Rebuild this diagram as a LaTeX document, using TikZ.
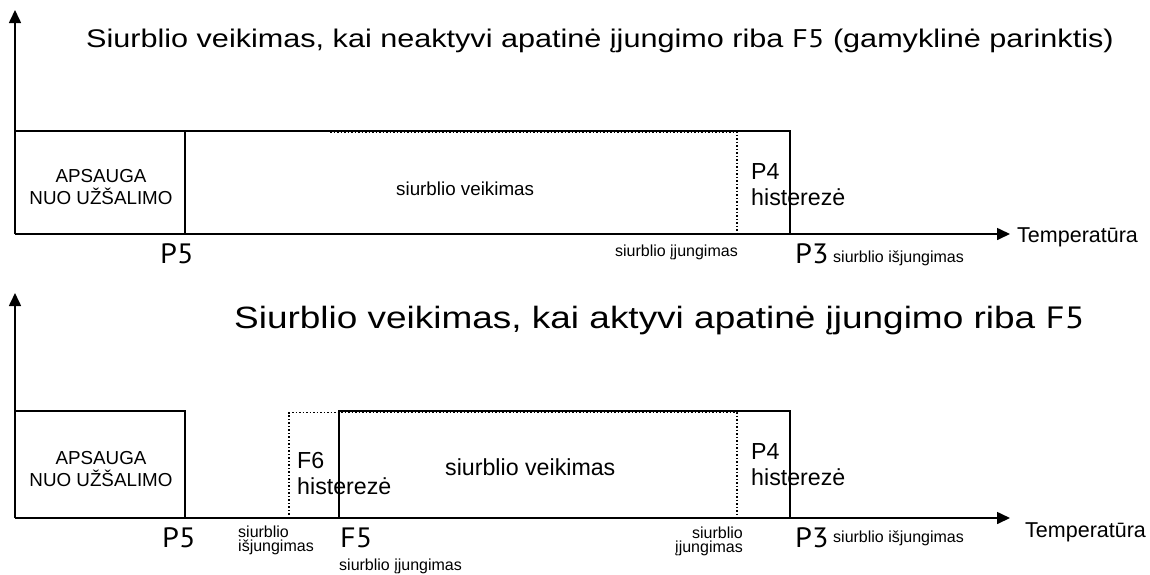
\documentclass[tikz,border=0pt]{standalone}
\usepackage{fontspec}
\setmainfont{Liberation Sans}
\newfontfamily\plabfont{PT Sans}[FakeStretch=1.08]
\newfontfamily\titlefont{Liberation Sans}[FakeStretch=1.2]
\newfontfamily\titleplab{PT Sans}[FakeStretch=1.2]
\usetikzlibrary{arrows.meta,positioning}

\tikzset{
    axis/.style={line width=1.6pt, -{Triangle[length=13pt,width=12pt]}},
    edge/.style={line width=1.6pt},
    hyst/.style={line width=1.5pt, dotted},
    txt/.style={inner sep=0pt, anchor=base west},
    title/.style={txt, font=\titlefont\fontsize{25.5}{30}\selectfont},
    mid/.style={txt, font=\fontsize{18.8}{22}\selectfont},
    big/.style={txt, font=\fontsize{23.2}{26.5}\selectfont},
    small/.style={txt, font=\fontsize{16}{14.5}\selectfont},
    axlab/.style={txt, font=\fontsize{21.5}{24}\selectfont},
    plab/.style={txt, font=\plabfont\fontsize{28}{30}\selectfont}
}

\begin{document}
\begin{tikzpicture}[x=1pt,y=-1pt]
            \useasboundingbox (0,0) rectangle (1150,574);

            \coordinate (o1) at (15,234);
            \coordinate (y1) at (15,10);
            \coordinate (x1) at (1010,234);
            \draw [axis] (o1) -- (y1);
            \draw [axis] (o1) -- (x1);
            \draw [edge] (o1) |- (185,131) -- (185,234);
            \draw [edge] (185,131) -| (790,234);
            \draw [hyst] (330,132.5) -- (737,132.5);
            \draw [hyst] (737,131) -- (737,234);

            \node [title] (t1) at (86,47) {Siurblio veikimas, kai neaktyvi apatinė įjungimo riba {\titleplab F5} (gamyklinė parinktis)};
            \node [mid, anchor=center, align=center] (prot1) at (101,187.5) {APSAUGA\\NUO UŽŠALIMO};
            \node [mid] (run1) at (396,195) {siurblio veikimas};
            \node [big, anchor=north west, align=left] (p4a) at (751,163) {P4\\histerezė};
            \node [small, anchor=base east] (on1) at (738,256) {siurblio įjungimas};
            \node [plab] (p5a) at (160,263) {P5};
            \node [plab] (p3a) at (795,263) {P3};
            \node [small] (off1) at (833,262) {siurblio išjungimas};
            \node [axlab] (temp1) at (1017,242) {Temperatūra};

            \coordinate (o2) at (15,518);
            \coordinate (y2) at (15,293);
            \coordinate (x2) at (1010,518);
            \draw [axis] (o2) -- (y2);
            \draw [axis] (o2) -- (x2);
            \draw [edge] (o2) |- (185,411) -- (185,518);
            \draw [hyst] (289,518) |- (737,412.5) -- (737,518);
            \draw [edge] (339,518) |- (790,411) -- (790,518);

            \node [title, font=\titlefont\fontsize{30.8}{34}\selectfont] (t2) at (234,328) {Siurblio veikimas, kai aktyvi apatinė įjungimo riba {\titleplab F5}};
            \node [mid, anchor=center, align=center] (prot2) at (101,469.5) {APSAUGA\\NUO UŽŠALIMO};
            \node [big, anchor=north west, align=left] (f6) at (297,452) {F6\\histerezė};
            \node [big] (run2) at (445,475) {siurblio veikimas};
            \node [big, anchor=north west, align=left] (p4b) at (751,443) {P4\\histerezė};
            \node [small, anchor=north west, align=left] (off2a) at (238,525.5) {siurblio\\išjungimas};
            \node [plab] (p5b) at (162,547) {P5};
            \node [plab] (f5) at (340,547) {F5};
            \node [small] (on2a) at (339,570) {siurblio įjungimas};
            \node [small, anchor=north east, align=right] (on2b) at (743,526.5) {siurblio\\įjungimas};
            \node [plab] (p3b) at (795,547) {P3};
            \node [small] (off2b) at (833,542) {siurblio išjungimas};
            \node [axlab] (temp2) at (1025,537) {Temperatūra};
        \end{tikzpicture}
\end{document}
